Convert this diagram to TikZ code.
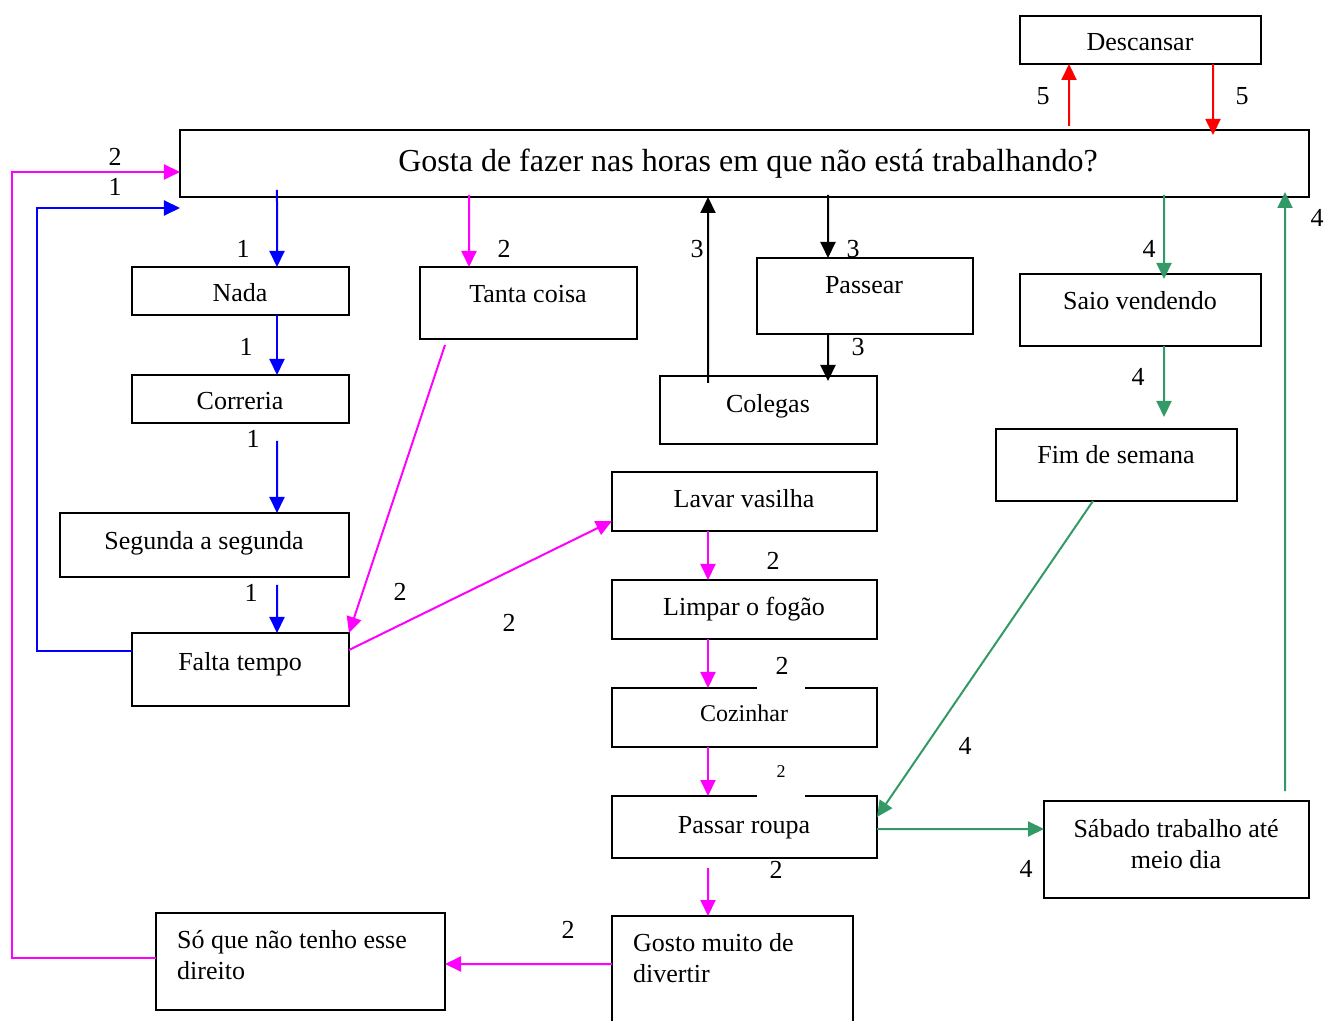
\documentclass[tikz,border=0pt]{standalone}
\usepackage{fontspec}
\setmainfont{Liberation Serif}
\usetikzlibrary{arrows.meta}
\definecolor{flowblue}{RGB}{0,0,255}
\definecolor{flowpink}{RGB}{255,0,255}
\definecolor{flowred}{RGB}{255,0,0}
\definecolor{flowgreen}{RGB}{51,153,102}
\definecolor{flowblack}{RGB}{0,0,0}
\begin{document}
\begin{tikzpicture}[x=1bp,y=1bp,
  box/.style={draw=black, line width=1.9bp, outer sep=0pt, inner sep=0pt},
  txt/.style={anchor=base, inner sep=0pt, font=\fontsize{26bp}{31bp}\selectfont},
  txtl/.style={txt, anchor=base west},
  num/.style={txt},
  conn/.style={line width=2bp, -{Triangle[length=16bp,width=15bp]}},
  blu/.style={conn, draw=flowblue},
  pnk/.style={conn, draw=flowpink},
  grn/.style={conn, draw=flowgreen},
  rd/.style={conn, draw=flowred},
  blk/.style={conn, draw=flowblack}]
\useasboundingbox (0,0) rectangle (1325,1020);

% boxes
\node[box, minimum width=241bp, minimum height=48bp]  (desc)     at (1140.5,980)  {};
\node[box, minimum width=1129bp, minimum height=67bp] (title)    at (744.5,856.5) {};
\node[box, minimum width=217bp, minimum height=48bp]  (nada)     at (240.5,729)   {};
\node[box, minimum width=217bp, minimum height=72bp]  (tanta)    at (528.5,717)   {};
\node[box, minimum width=216bp, minimum height=76bp]  (passear)  at (865,724)     {};
\node[box, minimum width=241bp, minimum height=72bp]  (saio)     at (1140.5,710)  {};
\node[box, minimum width=217bp, minimum height=48bp]  (correria) at (240.5,621)   {};
\node[box, minimum width=217bp, minimum height=68bp]  (colegas)  at (768.5,610)   {};
\node[box, minimum width=241bp, minimum height=72bp]  (fim)      at (1116.5,555)  {};
\node[box, minimum width=265bp, minimum height=59bp]  (lavar)    at (744.5,518.5) {};
\node[box, minimum width=289bp, minimum height=64bp]  (segunda)  at (204.5,475)   {};
\node[box, minimum width=265bp, minimum height=59bp]  (limpar)   at (744.5,410.5) {};
\node[box, minimum width=217bp, minimum height=73bp]  (falta)    at (240.5,350.5) {};
\node[box, minimum width=265bp, minimum height=59bp]  (cozinhar) at (744.5,302.5) {};
\node[box, minimum width=265bp, minimum height=62bp]  (passar)   at (744.5,193)   {};
\node[box, minimum width=265bp, minimum height=97bp]  (sabado)   at (1176.5,170.5){};
\node[box, minimum width=289bp, minimum height=97bp]  (soque)    at (300.5,58.5)  {};
\node[box, minimum width=241bp, minimum height=114bp] (gosto)    at (732.5,47)    {};

% gaps left in two top borders by the white label boxes
\fill[white] (757,329) rectangle (805,335);
\fill[white] (757,221) rectangle (805,227);

% box texts
\node[txt] (tdesc) at (1140,969) {Descansar};
\node[txt, font=\fontsize{32bp}{38bp}\selectfont] (ttitle) at (748,848) {Gosta de fazer nas horas em que não está trabalhando?};
\node[txt] (tnada) at (240,718) {Nada};
\node[txt] (ttanta) at (528,717) {Tanta coisa};
\node[txt] (tpassear) at (864,726) {Passear};
\node[txt] (tsaio) at (1140,710) {Saio vendendo};
\node[txt] (tcorreria) at (240,610) {Correria};
\node[txt] (tcolegas) at (768,607) {Colegas};
\node[txt] (tfim) at (1116,556) {Fim de semana};
\node[txt] (tlavar) at (744,512) {Lavar vasilha};
\node[txt] (tsegunda) at (204,470) {Segunda a segunda};
\node[txt] (tlimpar) at (744,404) {Limpar o fogão};
\node[txt] (tfalta) at (240,350) {Falta tempo};
\node[txt, font=\fontsize{24bp}{29bp}\selectfont] (tcozinhar) at (744,299) {Cozinhar};
\node[txt] (tpassar) at (744,187) {Passar roupa};
\node[txt] (tsabado1) at (1176,183) {Sábado trabalho até};
\node[txt] (tsabado2) at (1176,152) {meio dia};
\node[txtl] (tsoque1) at (177,72) {Só que não tenho esse};
\node[txtl] (tsoque2) at (177,41) {direito};
\node[txtl] (tgosto1) at (633,69) {Gosto muito de};
\node[txtl] (tgosto2) at (633,38) {divertir};

% path 1 (blue)
\draw[blu] ([xshift=-467.5bp,yshift=7bp]title.south) -- ([xshift=36.5bp]nada.north);
\draw[blu] ([xshift=36.5bp]nada.south) -- ([xshift=36.5bp]correria.north);
\draw[blu] ([xshift=36.5bp,yshift=-18bp]correria.south) -- ([xshift=72.5bp]segunda.north);
\draw[blu] ([xshift=72.5bp,yshift=-8bp]segunda.south) -- ([xshift=36.5bp]falta.north);
\draw[blu] ([yshift=18.5bp]falta.west) -- ++(-95bp,0) |- ([yshift=-44.5bp]title.west);

% path 2 (pink)
\draw[pnk] ([yshift=3.5bp]soque.west) -- ++(-144bp,0) |- ([yshift=-8.5bp]title.west);
\draw[pnk] ([xshift=-275.5bp,yshift=2bp]title.south) -- ([xshift=-59.5bp]tanta.north);
\draw[pnk] ([xshift=-83.5bp,yshift=-6bp]tanta.south) -- (falta.north east);
\draw[pnk] ([yshift=19.5bp]falta.east) -- ([yshift=-19.5bp]lavar.west);
\draw[pnk] ([xshift=-36.5bp]lavar.south) -- ([xshift=-36.5bp]limpar.north);
\draw[pnk] ([xshift=-36.5bp]limpar.south) -- ([xshift=-36.5bp]cozinhar.north);
\draw[pnk] ([xshift=-36.5bp]cozinhar.south) -- ([xshift=-36.5bp]passar.north);
\draw[pnk] ([xshift=-36.5bp,yshift=-10bp]passar.south) -- ([xshift=-24.5bp]gosto.north);
\draw[pnk] ([yshift=9bp]gosto.west) -- ([yshift=-2.5bp]soque.east);

% path 3 (black)
\draw[blk] ([xshift=-60.5bp,yshift=-7bp]colegas.north) -- ([xshift=-36.5bp]title.south);
\draw[blk] ([xshift=83.5bp,yshift=2bp]title.south) -- ([xshift=-37bp]passear.north);
\draw[blk] ([xshift=-37bp]passear.south) -- ([xshift=59.5bp,yshift=-5bp]colegas.north);

% path 4 (green)
\draw[grn] ([xshift=419.5bp,yshift=2bp]title.south) -- ([xshift=23.5bp,yshift=-5bp]saio.north);
\draw[grn] ([xshift=23.5bp]saio.south) -- ([xshift=47.5bp,yshift=12bp]fim.north);
\draw[grn] ([xshift=-23.5bp]fim.south) -- ([yshift=10bp]passar.east);
\draw[grn] ([yshift=-2bp]passar.east) -- ([yshift=20.5bp]sabado.west);
\draw[grn] ([xshift=108.5bp,yshift=10bp]sabado.north) -- ([xshift=540.5bp,yshift=5bp]title.south);

% path 5 (red)
\draw[rd] ([xshift=324.5bp,yshift=4bp]title.north) -- ([xshift=-71.5bp]desc.south);
\draw[rd] ([xshift=72.5bp]desc.south) -- ([xshift=468.5bp,yshift=-5bp]title.north);

% step numbers
\node[num] (n2a) at (115,854) {2};
\node[num] (n1a) at (115,824) {1};
\node[num] (n1b) at (243,762) {1};
\node[num] (n1c) at (246,664) {1};
\node[num] (n1d) at (253,572) {1};
\node[num] (n1e) at (251,418) {1};
\node[num] (n2b) at (504,762) {2};
\node[num] (n3a) at (697,762) {3};
\node[num] (n3b) at (853,762) {3};
\node[num] (n4a) at (1149,762) {4};
\node[num] (n3c) at (858,664) {3};
\node[num] (n4b) at (1138,634) {4};
\node[num] (n2c) at (400,419) {2};
\node[num] (n2d) at (509,388) {2};
\node[num] (n2e) at (773,450) {2};
\node[num] (n2f) at (782,346) {2};
\node[num, font=\fontsize{18bp}{22bp}\selectfont] (n2g) at (781,243) {2};
\node[num] (n2h) at (776,142) {2};
\node[num] (n2i) at (568,82) {2};
\node[num] (n4c) at (965,266) {4};
\node[num] (n4d) at (1026,143) {4};
\node[num] (n4e) at (1317,793) {4};
\node[num] (n5a) at (1043,915) {5};
\node[num] (n5b) at (1242,915) {5};
\end{tikzpicture}
\end{document}
